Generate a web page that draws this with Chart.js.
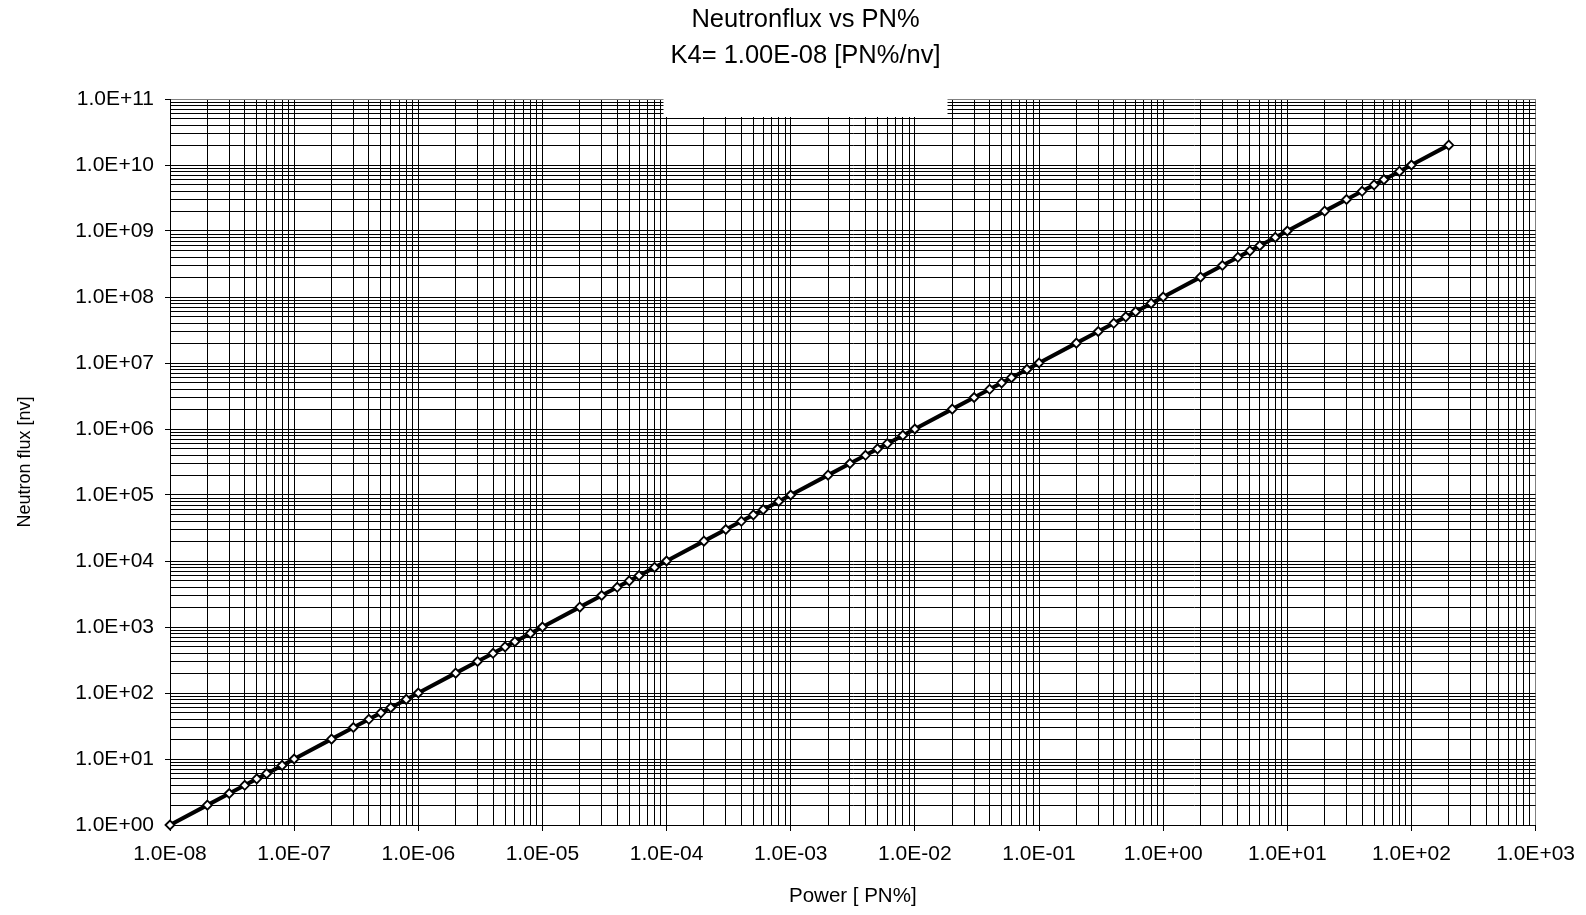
<!DOCTYPE html>
<html>
<head>
<meta charset="utf-8">
<title>Neutronflux vs PN%</title>
<script src="https://cdn.jsdelivr.net/npm/chart.js@4.4.1/dist/chart.umd.min.js"></script>
<style>
  html, body { margin: 0; padding: 0; background: #fff; }
  #wrap { width: 1586px; height: 915px; position: relative; }
</style>
</head>
<body>
<div id="wrap"><canvas id="chart"></canvas></div>
<script>
// Power [PN%] on x, neutron flux [nv] on y (K4 = 1.00E-08 PN%/nv)
const powerPN = [
  1e-8, 2e-8, 3e-8, 4e-8, 5e-8, 6e-8, 8e-8,
  1e-7, 2e-7, 3e-7, 4e-7, 5e-7, 6e-7, 8e-7,
  1e-6, 2e-6, 3e-6, 4e-6, 5e-6, 6e-6, 8e-6,
  1e-5, 2e-5, 3e-5, 4e-5, 5e-5, 6e-5, 8e-5,
  1e-4, 2e-4, 3e-4, 4e-4, 5e-4, 6e-4, 8e-4,
  1e-3, 2e-3, 3e-3, 4e-3, 5e-3, 6e-3, 8e-3,
  1e-2, 2e-2, 3e-2, 4e-2, 5e-2, 6e-2, 8e-2,
  1e-1, 2e-1, 3e-1, 4e-1, 5e-1, 6e-1, 8e-1,
  1, 2, 3, 4, 5, 6, 8,
  10, 20, 30, 40, 50, 60, 80,
  100, 200
]
const fluxNV = [
  1, 2, 3, 4, 5, 6, 8,
  1e1, 2e1, 3e1, 4e1, 5e1, 6e1, 8e1,
  1e2, 2e2, 3e2, 4e2, 5e2, 6e2, 8e2,
  1e3, 2e3, 3e3, 4e3, 5e3, 6e3, 8e3,
  1e4, 2e4, 3e4, 4e4, 5e4, 6e4, 8e4,
  1e5, 2e5, 3e5, 4e5, 5e5, 6e5, 8e5,
  1e6, 2e6, 3e6, 4e6, 5e6, 6e6, 8e6,
  1e7, 2e7, 3e7, 4e7, 5e7, 6e7, 8e7,
  1e8, 2e8, 3e8, 4e8, 5e8, 6e8, 8e8,
  1e9, 2e9, 3e9, 4e9, 5e9, 6e9, 8e9,
  1e10, 2e10
]

const xTickLabels = ['1.0E-08', '1.0E-07', '1.0E-06', '1.0E-05', '1.0E-04', '1.0E-03',
  '1.0E-02', '1.0E-01', '1.0E+00', '1.0E+01', '1.0E+02', '1.0E+03']
const yTickLabels = ['1.0E+00', '1.0E+01', '1.0E+02', '1.0E+03', '1.0E+04', '1.0E+05',
  '1.0E+06', '1.0E+07', '1.0E+08', '1.0E+09', '1.0E+10', '1.0E+11']

const X_MIN_EXP = -8, X_MAX_EXP = 3
const Y_MIN_EXP = 0, Y_MAX_EXP = 11

const FONT = "'Liberation Sans', Arial, sans-serif"
const TITLE_SIZE = 25.5

// 1..9 per decade, like an Excel log gridline set
function decadeTicks(minExp, maxExp) {
  const ticks = []
  for (let e = minExp; e < maxExp; e++) {
    for (let m = 1; m <= 9; m++) ticks.push({ value: m * Math.pow(10, e) })
  }
  ticks.push({ value: Math.pow(10, maxExp) })
  return ticks
}

const expOf = v => Math.round(Math.log10(v))
const isDecade = v => Math.abs(Math.log10(v) - expOf(v)) < 1e-9

function gridColor(ctx, maxExp) {
  if (!ctx.tick) return '#000'
  return expOf(ctx.tick.value) === maxExp && isDecade(ctx.tick.value) ? '#808080' : '#000'
}

// Excel leaves the title's white background box over the top of the plot
const titleBox = {
  id: 'titleBox',
  beforeDatasetsDraw(chart) {
    const { ctx, chartArea } = chart
    ctx.save()
    ctx.font = TITLE_SIZE + 'px ' + FONT
    const w = Math.max(...chart.options.plugins.title.text.map(t => ctx.measureText(t).width))
    const tb = chart.titleBlock
    const cx = (tb.left + tb.right) / 2
    ctx.fillStyle = '#fff'
    ctx.fillRect(cx - w / 2 - 7, chartArea.top - 1, w + 14, 19)
    ctx.restore()
  }
}

const data = powerPN.map((x, i) => ({ x, y: fluxNV[i] }))

const chart = new Chart(document.getElementById('chart'), {
  type: 'scatter',
  data: {
    datasets: [{
      label: 'Neutron flux',
      data,
      showLine: true,
      borderColor: '#000',
      borderWidth: 4,
      pointStyle: 'rectRot',
      pointRadius: 4.5,
      pointBorderWidth: 1.8,
      pointBackgroundColor: '#fff',
      pointBorderColor: '#000',
      clip: false
    }]
  },
  options: {
    responsive: true,
    maintainAspectRatio: false,
    animation: false,
    // left padding shifts the full-width title to where Excel put it
    layout: { padding: { left: 73, right: 48, top: 0, bottom: 0 } },
    plugins: {
      legend: { display: false },
      tooltip: { enabled: false },
      title: {
        display: true,
        text: ['Neutronflux vs PN%', 'K4= 1.00E-08 [PN%/nv]'],
        color: '#000',
        font: { family: FONT, size: TITLE_SIZE, weight: 'normal', lineHeight: 1.4 },
        padding: { top: 2, bottom: 25.6 }
      }
    },
    scales: {
      x: {
        type: 'logarithmic',
        min: Math.pow(10, X_MIN_EXP),
        max: Math.pow(10, X_MAX_EXP),
        afterBuildTicks: s => { s.ticks = decadeTicks(X_MIN_EXP, X_MAX_EXP) },
        afterFit: s => { s.height = 90 },
        border: { color: '#000', width: 1 },
        grid: {
          color: ctx => gridColor(ctx, X_MAX_EXP),
          lineWidth: 1,
          tickLength: 6,
          tickColor: ctx => (ctx.tick && isDecade(ctx.tick.value)) ? '#000' : 'rgba(0,0,0,0)'
        },
        ticks: {
          autoSkip: false,
          maxRotation: 0,
          padding: 11,
          color: '#000',
          font: { family: FONT, size: 21 },
          callback: v => isDecade(v) ? xTickLabels[expOf(v) - X_MIN_EXP] : ''
        },
        title: {
          display: true,
          text: 'Power [ PN%]',
          color: '#000',
          font: { family: FONT, size: 20.5 },
          padding: { top: 0, bottom: 6 }
        }
      },
      y: {
        type: 'logarithmic',
        min: Math.pow(10, Y_MIN_EXP),
        max: Math.pow(10, Y_MAX_EXP),
        afterBuildTicks: s => { s.ticks = decadeTicks(Y_MIN_EXP, Y_MAX_EXP) },
        afterFit: s => { s.width = 97 },
        border: { color: '#000', width: 1 },
        grid: {
          color: ctx => gridColor(ctx, Y_MAX_EXP),
          lineWidth: 1,
          tickLength: 5,
          tickColor: ctx => (ctx.tick && isDecade(ctx.tick.value)) ? '#000' : 'rgba(0,0,0,0)'
        },
        ticks: {
          autoSkip: false,
          padding: 11,
          color: '#000',
          font: { family: FONT, size: 21 },
          callback: v => isDecade(v) ? yTickLabels[expOf(v) - Y_MIN_EXP] : ''
        },
        title: {
          display: true,
          text: 'Neutron flux [nv]',
          color: '#000',
          font: { family: FONT, size: 18 },
          // pull the title back out to the canvas edge (scale box starts at the left padding)
          padding: { top: -59, bottom: 0 }
        }
      }
    }
  },
  plugins: [titleBox]
})
</script>
</body>
</html>
